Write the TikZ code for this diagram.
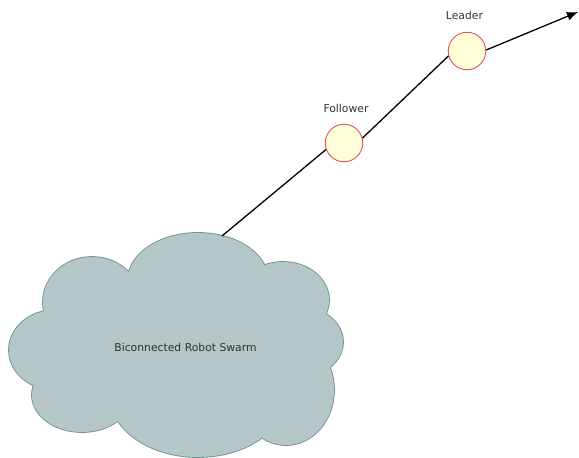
\documentclass[tikz,border=0pt]{standalone}
\usepackage{fontspec}
\setmainfont{DejaVu Sans}
\usetikzlibrary{arrows.meta}
\definecolor{cloudfill}{HTML}{B4C6C7}
\definecolor{cloudline}{HTML}{6E9696}
\definecolor{botfill}{HTML}{FFFFD8}
\definecolor{botline}{HTML}{E0506A}
\definecolor{labeltext}{HTML}{333333}
\tikzset{
  robot/.style={circle, draw=botline, fill=botfill, line width=0.9pt, minimum size=37.5pt, inner sep=0pt},
  lbl/.style={font=\fontsize{10.8}{12}\selectfont, text=labeltext, inner sep=0pt},
  link/.style={black, line width=1.3pt},
  heading/.style={link, -{Latex[length=11pt,width=9pt]}},
}
\begin{document}
\begin{tikzpicture}[x=1pt, y=-1pt]
\useasboundingbox (0,0) rectangle (579,458);

% cloud lobes: a wide stroke first, then the fills on top leave only the outer rim
\def\lobes{
  (198,280) ellipse [x radius=70pt, y radius=47pt]
  (92,302)  ellipse [x radius=49pt, y radius=45pt]
  (55,350)  ellipse [x radius=46pt, y radius=40pt]
  (82,395)  ellipse [x radius=50pt, y radius=37pt]
  (198,395) ellipse [x radius=88pt, y radius=62pt]
  (286,390) ellipse [x radius=48pt, y radius=55pt]
  (300,342) ellipse [x radius=43pt, y radius=35pt]
  (283,300) ellipse [x radius=46pt, y radius=38pt]
}
\draw[cloudline, line width=1.8pt] \lobes;
\fill[cloudfill] \lobes;
\fill[cloudfill] (185,345) ellipse [x radius=120pt, y radius=75pt];
\node[lbl] (swarm) at (185.5,347) {Biconnected Robot Swarm};
\coordinate (cloudtop) at (222,236);

% robots
\node[robot] (fol) at (344,143) {};
\node[robot] (lead) at (467,51) {};
\node[lbl] (follbl) at (346,108.5) {Follower};
\node[lbl] (leadlbl) at (464.5,15.5) {Leader};
\coordinate (goal) at (578,12);

% links
\draw[link] (cloudtop) -- (fol.200);
\draw[link] (fol.15) -- (lead.195);
\draw[heading] (lead.3) -- (goal);
\end{tikzpicture}
\end{document}
